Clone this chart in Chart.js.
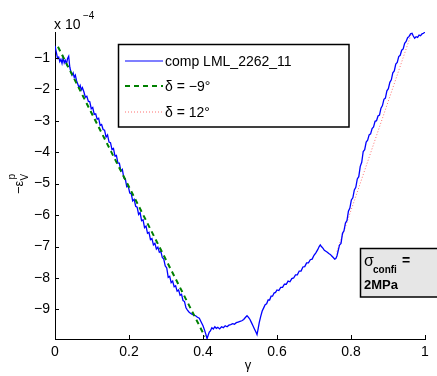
<!DOCTYPE html>
<html><head><meta charset="utf-8">
<script src="https://cdn.jsdelivr.net/npm/chart.js@4/dist/chart.umd.min.js"></script>
<style>html,body{margin:0;padding:0;background:#fff}#wrap{width:437px;height:376px}</style>
</head><body><div id="wrap"><canvas id="c" width="437" height="376"></canvas></div>
<script>
// gamma (shear strain) and -eps_v^p in units of 1e-4
const gammaBlue = [0.000,0.004,0.007,0.010,0.013,0.016,0.019,0.022,0.025,0.028,0.031,0.034,0.037,0.040,0.043,0.046,0.049,0.052,0.055,0.058,0.062,0.065,0.068,0.071,0.074,
0.078,0.082,0.086,0.090,0.094,0.098,0.102,0.106,0.110,0.114,0.118,0.122,0.126,0.130,0.134,0.138,0.142,0.146,0.150,0.154,0.158,0.162,0.166,0.170,0.174,0.178,0.182,0.186,0.190,0.194,0.198,0.202,0.206,0.210,0.214,0.218,0.222,0.226,0.230,0.234,0.238,0.242,0.246,0.250,0.254,0.258,0.262,0.266,0.270,0.274,0.278,0.282,0.286,0.290,0.294,0.298,0.302,0.306,0.310,0.314,0.318,0.322,0.326,0.330,0.334,0.338,0.342,0.346,0.350,0.354,0.358,
0.362,0.366,0.370,0.375,0.380,0.385,0.390,0.395,0.400,0.404,0.408,0.411,0.414,0.417,0.420,0.424,0.428,0.432,0.436,0.440,0.445,0.450,0.455,0.460,0.465,0.470,0.475,0.480,0.485,0.490,0.495,0.500,0.505,0.510,0.515,0.519,0.523,0.527,0.531,0.535,0.539,0.543,0.546,0.549,0.552,0.556,0.560,
0.564,0.568,0.572,0.576,0.580,0.584,0.588,0.592,0.596,0.600,0.605,0.610,0.615,0.620,0.625,0.630,0.635,0.640,0.645,0.650,0.655,0.660,0.665,0.670,0.675,0.680,0.685,0.690,0.695,0.700,
0.705,0.710,0.714,0.717,0.720,0.724,0.728,0.732,0.736,0.740,0.744,0.748,0.752,0.756,0.759,0.762,
0.765,0.769,0.773,0.777,0.781,0.785,0.789,0.793,0.797,0.801,0.805,0.809,0.813,0.817,0.821,0.825,0.829,0.833,0.837,0.841,0.845,0.849,0.853,0.857,0.861,0.865,0.869,0.873,0.877,0.881,0.885,0.889,0.893,0.897,0.901,0.905,0.909,0.913,0.917,0.921,0.925,0.929,0.933,0.937,0.941,0.945,0.949,0.953,0.957,0.961,
0.965,0.968,0.972,0.976,0.980,0.984,0.988,0.992,0.996,1.000];
const epsBlue = [-0.62,-0.85,-1.02,-0.98,-1.12,-1.05,-1.18,-1.00,-1.16,-1.08,-1.20,-1.02,-0.95,-1.30,-1.45,-1.55,-1.48,-1.62,-1.55,-1.72,-1.85,-1.95,-1.88,-2.02,-1.95,
-2.08,-2.25,-2.22,-2.38,-2.40,-2.62,-2.58,-2.80,-2.78,-2.95,-2.92,-3.15,-3.12,-3.28,-3.30,-3.52,-3.45,-3.68,-3.70,-3.92,-3.88,-4.12,-4.10,-4.35,-4.35,-4.60,-4.55,-4.82,-4.85,-5.10,-5.08,-5.30,-5.32,-5.55,-5.50,-5.72,-5.75,-5.98,-5.92,-6.18,-6.15,-6.40,-6.35,-6.58,-6.55,-6.78,-6.75,-6.95,-6.90,-7.08,-7.02,-7.18,-7.15,-7.35,-7.40,-7.62,-7.68,-7.98,-7.95,-8.15,-8.10,-8.28,-8.25,-8.42,-8.38,-8.55,-8.52,-8.72,-8.75,-8.95,-9.02,
-9.08,-9.12,-9.15,-9.18,-9.20,-9.25,-9.28,-9.40,-9.52,-9.65,-9.80,-9.93,-9.82,-9.72,-9.68,-9.58,-9.62,-9.55,-9.60,-9.57,-9.62,-9.55,-9.58,-9.52,-9.55,-9.50,-9.48,-9.45,-9.47,-9.42,-9.40,-9.38,-9.36,-9.32,-9.25,-9.20,-9.25,-9.32,-9.42,-9.52,-9.62,-9.72,-9.80,-9.62,-9.42,-9.22,-9.05,
-8.95,-8.85,-8.82,-8.70,-8.70,-8.58,-8.58,-8.48,-8.46,-8.38,-8.40,-8.30,-8.30,-8.20,-8.20,-8.10,-8.12,-8.02,-8.00,-7.90,-7.90,-7.78,-7.78,-7.65,-7.64,-7.52,-7.52,-7.42,-7.40,-7.28,
-7.20,-7.10,-7.00,-6.95,-7.00,-7.05,-7.12,-7.15,-7.18,-7.22,-7.25,-7.30,-7.35,-7.40,-7.38,-7.30,
-7.15,-6.95,-6.90,-6.58,-6.50,-6.25,-6.18,-5.88,-5.78,-5.52,-5.45,-5.20,-5.12,-4.85,-4.78,-4.45,-4.32,-3.98,-3.92,-3.68,-3.62,-3.45,-3.42,-3.25,-3.20,-3.02,-3.00,-2.85,-2.82,-2.60,-2.52,-2.32,-2.28,-2.05,-1.98,-1.78,-1.70,-1.48,-1.42,-1.20,-1.15,-0.96,-0.92,-0.76,-0.72,-0.54,-0.48,-0.36,-0.32,-0.24,
-0.22,-0.30,-0.38,-0.33,-0.35,-0.28,-0.30,-0.24,-0.22,-0.18];
const gammaFitNeg9 = [0.008, 0.405];
const epsFitNeg9 = [-0.65, -9.86];
const gammaFit12 = [0.762, 0.962];
const epsFit12 = [-7.16, -0.27];
const xTicks = [0, 0.2, 0.4, 0.6, 0.8, 1];
const yTicks = [-9, -8, -7, -6, -5, -4, -3, -2, -1];
const seriesNames = ['comp LML_2262_11', 'δ = −9°', 'δ = 12°'];

const FONT = '"Liberation Sans", Arial, Helvetica, sans-serif';
const pts = (xs, ys) => xs.map((x, i) => ({x: x, y: ys[i]}));

const decor = {
  id: 'decor',
  afterDatasetsDraw(chart) {
    const ctx = chart.ctx, xs = chart.scales.x, ys = chart.scales.y, a = chart.chartArea;
    ctx.save();
    ctx.strokeStyle = '#000'; ctx.lineWidth = 1;
    xTicks.forEach(v => { const px = Math.round(xs.getPixelForValue(v)) + 0.5; ctx.beginPath(); ctx.moveTo(px, a.bottom); ctx.lineTo(px, a.bottom - 4); ctx.stroke(); });
    yTicks.forEach(v => { const py = Math.round(ys.getPixelForValue(v)) + 0.5; ctx.beginPath(); ctx.moveTo(a.left, py); ctx.lineTo(a.left + 4, py); ctx.stroke(); });
    ctx.fillStyle = '#000'; ctx.textBaseline = 'alphabetic'; ctx.textAlign = 'left';
    ctx.font = '14px ' + FONT; ctx.fillText('x 10', 54, 29);
    ctx.font = '10px ' + FONT; ctx.fillText('\u22124', 83, 19);
    ctx.font = '13px ' + FONT; ctx.textAlign = 'center'; ctx.fillText('γ', 248, 369);
    ctx.save(); ctx.translate(23, 194); ctx.rotate(-Math.PI / 2);
    ctx.textAlign = 'left'; ctx.font = '13px ' + FONT;
    ctx.fillText('\u2212ε', 0, 0); const w = ctx.measureText('\u2212ε').width;
    ctx.font = '10px ' + FONT; ctx.fillText('V', w, 5); ctx.fillText('p', w + 1, -8);
    ctx.restore();
    // legend
    ctx.fillStyle = '#fff'; ctx.fillRect(118, 44, 231, 83);
    ctx.lineWidth = 1.5; ctx.strokeStyle = '#000'; ctx.strokeRect(118.5, 44.5, 230.5, 82.5);
    const rows = [61, 86, 112];
    const styles = [{c: '#0000ff', w: 1.2, d: []}, {c: '#008000', w: 2, d: [5, 4]}, {c: '#ff7070', w: 1, d: [1, 2]}];
    rows.forEach((ry, i) => {
      ctx.strokeStyle = styles[i].c; ctx.lineWidth = styles[i].w; ctx.setLineDash(styles[i].d);
      ctx.beginPath(); ctx.moveTo(125, ry); ctx.lineTo(163, ry); ctx.stroke();
      ctx.setLineDash([]);
      ctx.fillStyle = '#000'; ctx.font = '14px ' + FONT; ctx.textAlign = 'left'; ctx.textBaseline = 'middle';
      ctx.fillText(seriesNames[i], 165, ry + 1);
    });
    // annotation box
    ctx.textBaseline = 'alphabetic';
    ctx.fillStyle = '#e6e6e6'; ctx.fillRect(360, 248, 80, 49);
    ctx.lineWidth = 1.5; ctx.strokeStyle = '#000'; ctx.strokeRect(360.5, 248.5, 80, 48.5);
    ctx.fillStyle = '#000';
    ctx.font = '16px ' + FONT; ctx.fillText('σ', 364, 266);
    ctx.font = 'bold 10px ' + FONT; ctx.fillText('confi', 373, 273);
    ctx.font = 'bold 14px ' + FONT; ctx.fillText('=', 402, 265);
    ctx.font = 'bold 13px ' + FONT; ctx.fillText('2MPa', 364, 289);
    ctx.restore();
  }
};

new Chart(document.getElementById('c'), {
  type: 'scatter',
  data: {
    datasets: [
      {label: seriesNames[0], data: pts(gammaBlue, epsBlue), showLine: true, borderColor: '#0000ff', borderWidth: 1.3, pointRadius: 0, tension: 0, order: 1},
      {label: seriesNames[1], data: pts(gammaFitNeg9, epsFitNeg9), showLine: true, borderColor: '#008000', borderWidth: 2, borderDash: [5, 4], pointRadius: 0, order: 0},
      {label: seriesNames[2], data: pts(gammaFit12, epsFit12), showLine: true, borderColor: '#ff7070', borderWidth: 1, borderDash: [1, 2], pointRadius: 0, order: 2}
    ]
  },
  options: {
    responsive: false, animation: false, devicePixelRatio: 1,
    layout: {padding: {left: 0, right: 12, top: 32, bottom: 0}},
    plugins: {legend: {display: false}, tooltip: {enabled: false}},
    scales: {
      x: {
        type: 'linear', min: 0, max: 1,
        afterBuildTicks: s => { s.ticks = xTicks.map(v => ({value: v})); },
        afterFit: s => { s.height = 37; },
        grid: {display: false, drawTicks: false},
        border: {display: true, color: '#000', width: 1},
        ticks: {color: '#000', font: {family: FONT, size: 14}, padding: 5, maxRotation: 0, autoSkip: false,
                callback: v => String(v)}
      },
      y: {
        type: 'linear', min: -9.94, max: -0.18,
        afterBuildTicks: s => { s.ticks = yTicks.map(v => ({value: v})); },
        afterFit: s => { s.width = 55; },
        grid: {display: false, drawTicks: false},
        border: {display: true, color: '#000', width: 1},
        ticks: {color: '#000', font: {family: FONT, size: 14}, padding: 5, autoSkip: false,
                callback: v => String(v).replace('-', '\u2212')}
      }
    }
  },
  plugins: [decor]
});
</script></body></html>
